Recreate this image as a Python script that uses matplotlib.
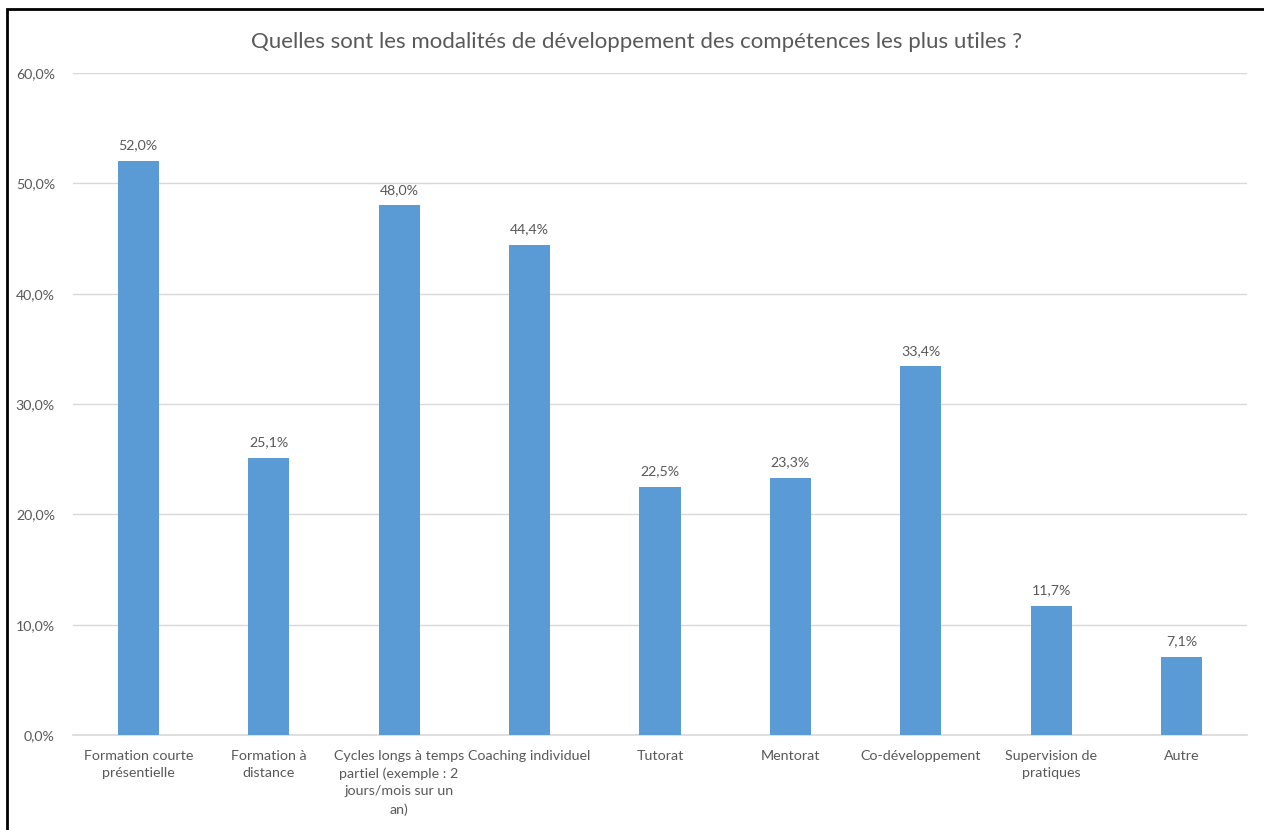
import matplotlib.pyplot as plt
from matplotlib.patches import Rectangle
from matplotlib.ticker import FuncFormatter, MultipleLocator

# survey results, share of respondents (%)
categories = [
    "Formation courte\nprésentielle",
    "Formation à\ndistance",
    "Cycles longs à temps\npartiel (exemple : 2\njours/mois sur un\nan)",
    "Coaching individuel",
    "Tutorat",
    "Mentorat",
    "Co-développement",
    "Supervision de\npratiques",
    "Autre",
]
values = [52.0, 25.1, 48.0, 44.4, 22.5, 23.3, 33.4, 11.7, 7.1]

title = "Quelles sont les modalités de développement des compétences les plus utiles ?"

bar_color = "#5B9BD5"
text_color = "#595959"
grid_color = "#D9D9D9"

plt.rcParams["font.family"] = ["Lato", "DejaVu Sans"]


def pct(v, _pos=None):
    return f"{v:.1f}%".replace(".", ",")


fig = plt.figure(figsize=(12.64, 8.30), dpi=100)
ax = fig.add_axes([73 / 1264, 1 - 735 / 830, (1247 - 73) / 1264, (735 - 73) / 830])

x = range(len(categories))
ax.bar(x, values, width=0.315, color=bar_color, zorder=3)

for xi, v in zip(x, values):
    ax.annotate(pct(v), (xi, v), xytext=(0, 7), textcoords="offset points",
                ha="center", va="bottom", fontsize=10.2, color=text_color)

ax.set_xlim(-0.5, len(categories) - 0.5)
ax.set_ylim(0, 60)
ax.yaxis.set_major_locator(MultipleLocator(10))
ax.yaxis.set_major_formatter(FuncFormatter(pct))
ax.grid(axis="y", color=grid_color, linewidth=1, zorder=0)

ax.set_xticks(list(x))
ax.set_xticklabels(categories, fontsize=10.3, color=text_color, linespacing=1.55, va="top")
ax.tick_params(axis="x", length=0, pad=10.5)
ax.tick_params(axis="y", length=0, pad=13, labelsize=10.2, labelcolor=text_color)

for side in ("top", "right", "left"):
    ax.spines[side].set_visible(False)
ax.spines["bottom"].set_color(grid_color)
ax.spines["bottom"].set_linewidth(1.2)

fig.text(637 / 1264, 1 - 42 / 830, title, ha="center", va="center", fontsize=16, color=text_color)

# outer frame of the chart area
fig.patches.append(Rectangle((7 / 1264, -0.1), 1.2, 1 - 9 / 830 + 0.1,
                             transform=fig.transFigure, fill=False,
                             edgecolor="black", linewidth=2, zorder=10))

fig.savefig("out.png", dpi=100)
